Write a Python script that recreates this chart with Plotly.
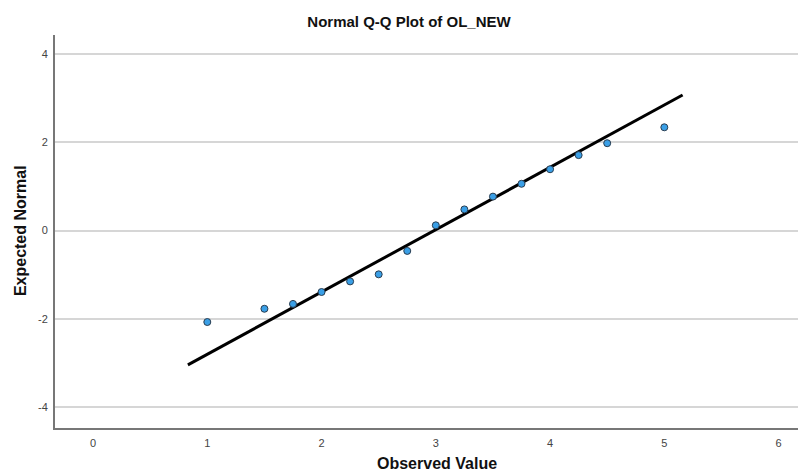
import plotly.graph_objects as go

# Observed values and their expected normal quantiles
observed = [1.0, 1.5, 1.75, 2.0, 2.25, 2.5, 2.75, 3.0, 3.25, 3.5, 3.75, 4.0, 4.25, 4.5, 5.0]
expected = [-2.07, -1.77, -1.66, -1.39, -1.15, -0.99, -0.46, 0.12, 0.48, 0.77, 1.06, 1.39, 1.71, 1.98, 2.34]

# Reference line endpoints
line_x = [0.83, 5.16]
line_y = [-3.04, 3.07]

x_ticks = [0, 1, 2, 3, 4, 5, 6]
y_ticks = [-4, -2, 0, 2, 4]

FONT = "Liberation Sans, Arial, sans-serif"

# The page places the figure 8px in from the top-left corner
W, H = 798, 465

fig = go.Figure()
fig.add_trace(go.Scatter(
    x=line_x, y=line_y, mode="lines",
    line=dict(color="black", width=3), hoverinfo="skip", showlegend=False))
fig.add_trace(go.Scatter(
    x=observed, y=expected, mode="markers",
    marker=dict(size=7, color="#3a9fe6", line=dict(color="#2a3d50", width=1)),
    showlegend=False))

tick_font = dict(family=FONT, size=11, color="#444")
label_font = dict(family=FONT, size=16, color="#111")

fig.update_layout(
    width=W, height=H,
    margin=dict(l=47, r=0, t=27, b=45, autoexpand=False),
    paper_bgcolor="white", plot_bgcolor="white",
    title=dict(text="<b>Normal Q-Q Plot of OL_NEW</b>", x=401 / W, xanchor="center",
               y=1 - 14 / H, yanchor="middle", automargin=False,
               font=dict(family=FONT, size=15, color="#111")),
    xaxis=dict(range=[-0.333, 6.24], tickvals=x_ticks, ticktext=[str(v) for v in x_ticks],
               showgrid=False, zeroline=False, showline=True, linecolor="#777", linewidth=2,
               ticks="", tickfont=tick_font, ticklabelstandoff=4, automargin=False),
    yaxis=dict(range=[-4.47, 4.43], tickvals=y_ticks, ticktext=[str(v) for v in y_ticks],
               showgrid=True, gridcolor="#d6d6d6", gridwidth=1.5, zeroline=False,
               showline=True, linecolor="#777", linewidth=2,
               ticks="", tickfont=tick_font, ticklabelstandoff=3, automargin=False),
    annotations=[
        dict(text="<b>Observed Value</b>", xref="paper", yref="paper", x=0.509, y=0,
             xanchor="center", yanchor="middle", yshift=-35, showarrow=False, font=label_font),
        dict(text="<b>Expected Normal</b>", xref="paper", yref="paper", x=0, y=0.501,
             xanchor="center", yanchor="middle", xshift=-35, textangle=-90,
             showarrow=False, font=label_font),
    ],
)

fig.write_html("out.html")
